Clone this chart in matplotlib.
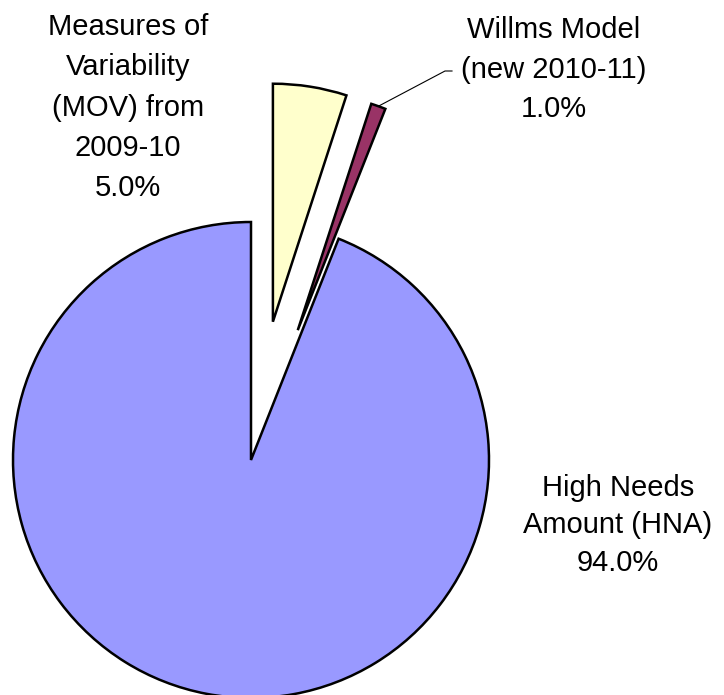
import numpy as np
import matplotlib
matplotlib.use("Agg")
import matplotlib.pyplot as plt

# slice data, drawn clockwise from 12 o'clock
labels = ["Measures of\nVariability\n(MOV) from\n2009-10", "Willms Model\n(new 2010-11)", "High Needs\nAmount (HNA)"]
shares = [5.0, 1.0, 94.0]
colors = ["#FFFFCC", "#993366", "#9999FF"]
explode = [140, 138, 0]

plt.rcParams['font.family'] = ['Liberation Sans', 'DejaVu Sans']

W, H = 724, 695
fig = plt.figure(figsize=(W / 100, H / 100), dpi=100)
ax = fig.add_axes([0, 0, 1, 1])

# work in pixel units, y measured upward
cx, cy, r = 251, H - 460, 238
wedges, _ = ax.pie(shares, colors=colors, explode=explode, startangle=90,
                   counterclock=False, radius=r, center=(cx, cy),
                   wedgeprops=dict(edgecolor='black', linewidth=1.8))
ax.set_xlim(0, W)
ax.set_ylim(0, H)
ax.set_aspect('equal')
ax.axis('off')

txt = dict(fontsize=21, ha='center', va='top', color='black')
ax.text(128, H - 13, f"{labels[0]}\n{shares[0]:.1f}%", linespacing=1.56, **txt)
ax.text(554, H - 16, f"{labels[1]}\n{shares[1]:.1f}%", linespacing=1.53, **txt)
ax.text(618, H - 474, f"{labels[2]}\n{shares[2]:.1f}%", linespacing=1.43, **txt)

# leader line for the small slice
w = wedges[1]
tm = np.deg2rad((w.theta1 + w.theta2) / 2)
x0 = w.center[0] + w.r * np.cos(tm)
y0 = w.center[1] + w.r * np.sin(tm)
ax.plot([x0, 445, 452], [y0, H - 71, H - 71], color='black', linewidth=0.8)

fig.savefig("out.png", dpi=100)
